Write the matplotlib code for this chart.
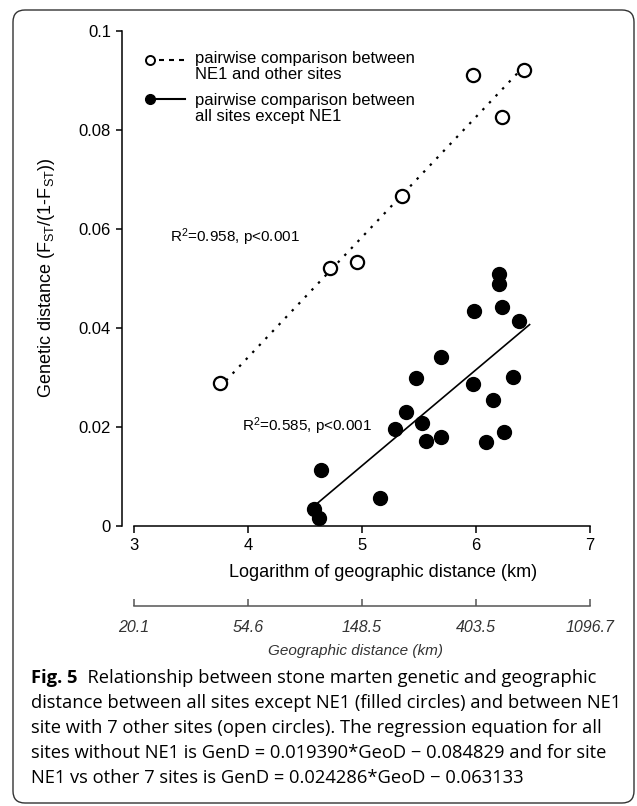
import numpy as np
import matplotlib
matplotlib.use('Agg')
import matplotlib.pyplot as plt
from matplotlib.patches import FancyBboxPatch

# open circles: NE1 against the 7 other sites
ne1_log_dist = [3.75, 4.72, 4.96, 5.35, 5.97, 6.23, 6.42]
ne1_gen_dist = [0.0289, 0.0521, 0.0533, 0.0666, 0.0910, 0.0825, 0.0921]

# filled circles: all site pairs without NE1
other_log_dist = [6.198, 6.198, 5.98, 6.23, 6.373, 5.696, 5.476, 5.974, 6.323,
                  6.145, 5.386, 5.522, 5.29, 5.565, 5.69, 6.085, 6.245, 4.64,
                  5.158, 4.578, 4.62]
other_gen_dist = [0.0508, 0.0488, 0.0434, 0.0442, 0.0414, 0.0341, 0.0299,
                  0.0287, 0.0301, 0.0254, 0.0230, 0.0208, 0.0196, 0.0172,
                  0.0180, 0.0170, 0.0189, 0.0113, 0.0055, 0.0033, 0.0016]

# regression lines: slope, intercept, x range
ne1_fit = (0.024286, -0.063133)
ne1_fit_range = [3.75, 6.42]
other_fit = (0.019390, -0.084829)
other_fit_range = [4.58, 6.47]

ne1_stats = 'R$^{2}$=0.958, p<0.001'
other_stats = 'R$^{2}$=0.585, p<0.001'

log_ticks = [3, 4, 5, 6, 7]
geo_tick_labels = ['20.1', '54.6', '148.5', '403.5', '1096.7']
y_ticks = [0, 0.02, 0.04, 0.06, 0.08, 0.1]
y_tick_labels = ['0', '0.02', '0.04', '0.06', '0.08', '0.1']

legend_labels = ['pairwise comparison between\nNE1 and other sites',
                 'pairwise comparison between\nall sites except NE1']

caption_head = 'Fig. 5'
caption_lines = [
    '  Relationship between stone marten genetic and geographic',
    'distance between all sites except NE1 (filled circles) and between NE1',
    'site with 7 other sites (open circles). The regression equation for all',
    'sites without NE1 is GenD = 0.019390*GeoD \u2212 0.084829 and for site',
    'NE1 vs other 7 sites is GenD = 0.024286*GeoD \u2212 0.063133',
]

W, H = 637, 806

plt.rcParams['font.family'] = ['Liberation Sans', 'DejaVu Sans']
plt.rcParams['mathtext.fontset'] = 'custom'
plt.rcParams['mathtext.rm'] = 'Liberation Sans'
plt.rcParams['mathtext.it'] = 'Liberation Sans:italic'


def fx(px):
    return px / W


def fy(py):
    return 1 - py / H


fig = plt.figure(figsize=(W / 100, H / 100), dpi=100)

# frame round the whole figure
frame = FancyBboxPatch((0.13, 0.03), 6.21, 7.93,
                       boxstyle='round,pad=0,rounding_size=0.12',
                       transform=fig.dpi_scale_trans, fc='none',
                       ec='#333333', lw=1.0)
fig.add_artist(frame)

ax = fig.add_axes([fx(134), fy(525.7), fx(590) - fx(134), fy(30.7) - fy(525.7)])
ax.set_xlim(3, 7)
ax.set_ylim(0, 0.1)

# regression lines
xs = np.array(ne1_fit_range)
ax.plot(xs, ne1_fit[0] * xs + ne1_fit[1], color='black', lw=1.6,
        ls=(0, (1.1, 3.2)), zorder=2)
xs = np.array(other_fit_range)
ax.plot(xs, other_fit[0] * xs + other_fit[1], color='black', lw=1.2, zorder=2)

ax.plot(other_log_dist, other_gen_dist, 'o', color='black', ms=10,
        clip_on=False, zorder=3)
ax.plot(ne1_log_dist, ne1_gen_dist, 'o', mfc='white', mec='black', ms=9.5,
        mew=1.6, clip_on=False, zorder=3)

ax.text(3.32, 0.0582, ne1_stats, fontsize=11, va='center')
ax.text(3.944, 0.0202, other_stats, fontsize=11, va='center')

# legend drawn by hand
tr = ax.transAxes
ax.plot([0.034], [0.941], 'o', mfc='white', mec='black', ms=6.5, mew=1.4,
        transform=tr, clip_on=False)
ax.plot([0.054, 0.111], [0.941, 0.941], color='black', lw=1.5,
        ls=(0, (2.4, 2.4)), transform=tr, clip_on=False)
ax.plot([0.034], [0.862], 'o', color='black', ms=7, transform=tr,
        clip_on=False)
ax.plot([0.046, 0.111], [0.862, 0.862], color='black', lw=1.5,
        transform=tr, clip_on=False)
ax.text(0.1335, 0.9275, legend_labels[0], transform=tr, fontsize=12,
        va='center', linespacing=1.05)
ax.text(0.1335, 0.8425, legend_labels[1], transform=tr, fontsize=12,
        va='center', linespacing=1.05)

for side in ['top', 'right']:
    ax.spines[side].set_visible(False)
ax.spines['left'].set_position(('outward', 8.6))
ax.spines['left'].set_bounds(0, 0.1)
ax.spines['bottom'].set_bounds(3, 7)
ax.spines['left'].set_linewidth(1.1)
ax.spines['bottom'].set_linewidth(1.1)

ax.set_xticks(log_ticks)
ax.set_xticklabels([str(t) for t in log_ticks])
ax.set_yticks(y_ticks)
ax.set_yticklabels(y_tick_labels)
ax.tick_params(axis='y', direction='out', length=4, width=1.1, labelsize=12,
               pad=4)
ax.tick_params(axis='x', direction='out', length=5, width=1.1, labelsize=12,
               pad=4)

ax.set_ylabel('Genetic distance (F$_{\\mathregular{ST}}$/(1-F$_{\\mathregular{ST}}$))',
              fontsize=13, va='center')
ax.yaxis.set_label_coords((47 - 134) / 456, 0.5)
ax.set_xlabel('Logarithm of geographic distance (km)', fontsize=13,
              va='center')
ax.xaxis.set_label_coords((383 - 134) / 456, (525.7 - 572.7) / 495)

# second scale: geographic distance in km
ax2 = fig.add_axes([fx(134), fy(606), fx(590) - fx(134), 0.0001])
ax2.set_xlim(3, 7)
ax2.set_yticks([])
for side in ['top', 'right', 'left']:
    ax2.spines[side].set_visible(False)
ax2.spines['bottom'].set_color('#555555')
ax2.spines['bottom'].set_linewidth(1.1)
ax2.set_xticks(log_ticks)
ax2.set_xticklabels(geo_tick_labels, fontstyle='italic', color='#333333')
ax2.tick_params(axis='x', direction='in', length=5, width=1.1,
                color='#555555', labelsize=11.5, pad=10)
ax2.patch.set_visible(False)

fig.text(fx(355), fy(651), 'Geographic distance (km)', fontsize=11,
         style='italic', color='#333333', ha='center', va='center')

# caption
cap_font = ['Open Sans', 'DejaVu Sans']
cap_size = 13.2
cap_y = [678, 703, 728, 753, 778]
head = fig.text(fx(31), fy(cap_y[0]), caption_head, family=cap_font,
                fontsize=cap_size, fontweight='bold', va='center')
fig.canvas.draw()
bb = head.get_window_extent()
fig.text(bb.x1 / W, fy(cap_y[0]), caption_lines[0], family=cap_font,
         fontsize=cap_size, va='center')
for line, y in zip(caption_lines[1:], cap_y[1:]):
    fig.text(fx(31), fy(y), line, family=cap_font, fontsize=cap_size,
             va='center')

fig.savefig('out.png', dpi=100)
